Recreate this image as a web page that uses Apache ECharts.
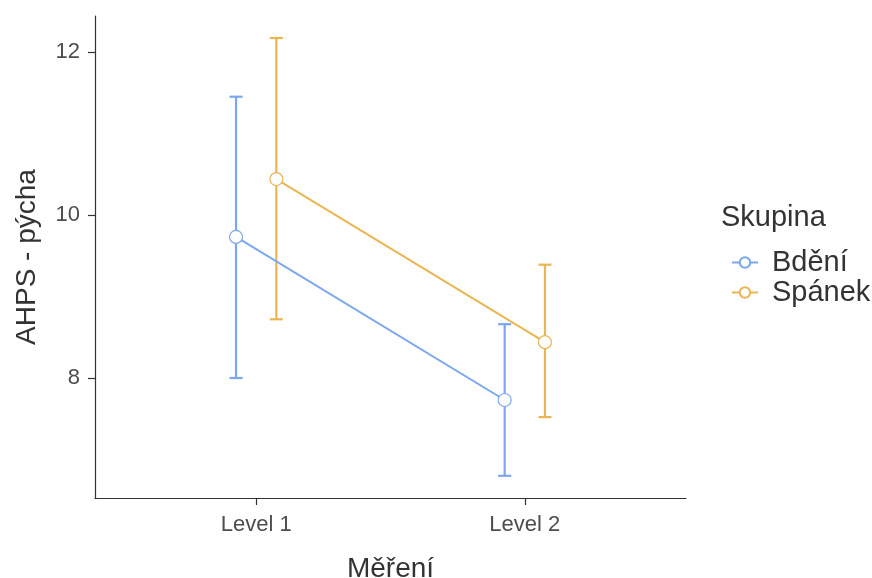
<!DOCTYPE html>
<html><head><meta charset="utf-8">
<script src="https://cdn.jsdelivr.net/npm/echarts@6/dist/echarts.min.js"></script>
<style>html,body{margin:0;padding:0;background:#fff}#c{width:872px;height:578px}</style>
</head><body><div id="c"></div>
<script>
const categories = ['Level 1', 'Level 2'];
const groups = ['Bdění', 'Spánek'];
const colors = ['#7ba7ee', '#ebb553'];
const means = [[9.73, 7.73], [10.44, 8.44]];
const lows = [[8.00, 6.80], [8.72, 7.52]];
const highs = [[11.45, 8.66], [12.17, 9.39]];
const yTicks = [8, 10, 12];
const dodge = [-0.075, 0.075];
const FF = 'Liberation Sans, Arial, sans-serif';

const chart = echarts.init(document.getElementById('c'), null, {renderer: 'canvas'});
const series = [];
groups.forEach((g, gi) => {
  const lineData = categories.map((c, ci) => [ci + 1 + dodge[gi], means[gi][ci]]);
  const ebData = categories.map((c, ci) => [ci + 1 + dodge[gi], lows[gi][ci], highs[gi][ci]]);
  series.push({
    type: 'custom', name: 'eb_' + g, silent: true, z: 2,
    data: ebData,
    renderItem: function (params, api) {
      const x = api.value(0);
      const lo = api.coord([x, api.value(1)]);
      const hi = api.coord([x, api.value(2)]);
      const w = 6.5;
      const st = {stroke: colors[gi], lineWidth: 2.2};
      return {type: 'group', children: [
        {type: 'line', shape: {x1: lo[0], y1: lo[1], x2: hi[0], y2: hi[1]}, style: st},
        {type: 'line', shape: {x1: lo[0] - w, y1: lo[1], x2: lo[0] + w, y2: lo[1]}, style: st},
        {type: 'line', shape: {x1: hi[0] - w, y1: hi[1], x2: hi[0] + w, y2: hi[1]}, style: st}
      ]};
    }
  });
  series.push({
    type: 'line', name: g, z: 3,
    data: lineData,
    symbol: 'circle', symbolSize: 13,
    itemStyle: {color: '#fff', borderColor: colors[gi], borderWidth: 1.2},
    lineStyle: {color: colors[gi], width: 2},
    emphasis: {disabled: true}
  });
});

chart.setOption({
  animation: false,
  title: {text: 'Skupina', left: 721, top: 203, padding: 0, textStyle: {fontSize: 29, fontWeight: 'normal', color: '#333', fontFamily: FF}},
  legend: {
    data: groups.map((g, i) => ({name: g})),
    orient: 'vertical', left: 731, top: 248, padding: 0, itemWidth: 26, itemHeight: 13, itemGap: 1,
    textStyle: {fontSize: 29, color: '#333', fontFamily: FF, padding: [0, 0, 0, 9]},
    selectedMode: false
  },
  grid: {left: 95, right: 186, top: 16, bottom: 80, containLabel: false, outerBoundsMode: 'none'},
  xAxis: {
    type: 'value', min: 0.4, max: 2.6,
    name: 'Měření', nameLocation: 'middle', nameGap: 57,
    nameTextStyle: {fontSize: 28, color: '#333', fontFamily: FF},
    axisLine: {show: true, lineStyle: {color: '#333', width: 1.2}},
    axisTick: {show: true, customValues: [1, 2], length: 7, lineStyle: {color: '#333', width: 1.2}},
    axisLabel: {customValues: [1, 2], formatter: v => categories[Math.round(v) - 1], fontSize: 22, color: '#4d4d4d', margin: 16, fontFamily: FF},
    splitLine: {show: false}
  },
  yAxis: {
    type: 'value', min: 6.528, max: 12.44,
    name: 'AHPS - pýcha', nameLocation: 'middle', nameGap: 54,
    nameTextStyle: {fontSize: 28, color: '#333', fontFamily: FF},
    axisLine: {show: true, lineStyle: {color: '#333', width: 1.2}},
    axisTick: {show: true, customValues: yTicks, length: 7, lineStyle: {color: '#333', width: 1.2}},
    axisLabel: {customValues: yTicks, fontSize: 22, color: '#4d4d4d', margin: 15, fontFamily: FF},
    splitLine: {show: false}
  },
  series: series
});
</script></body></html>
